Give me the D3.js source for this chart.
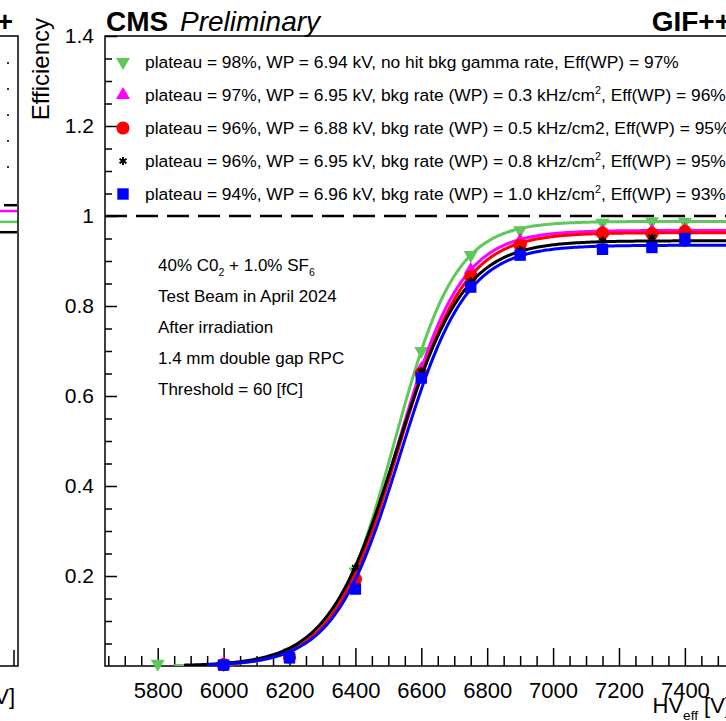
<!DOCTYPE html>
<html>
<head>
<meta charset="utf-8">
<script src="https://cdn.jsdelivr.net/npm/d3@7"></script>
<style>
  body { margin: 0; background: #fff; }
  svg { display: block; font-family: "Liberation Sans", Arial, Helvetica, sans-serif; }
</style>
</head>
<body>
<div id="chart"></div>
<script>
// ---- data ----
const hvNoBkg = [5800, 6000, 6200, 6400, 6600, 6750, 6900, 7150, 7300, 7400];
const effNoBkg = [0.005, 0.004, 0.03, 0.21, 0.70, 0.913, 0.968, 0.985, 0.988, 0.987];
const hvBkg = [6000, 6200, 6400, 6600, 6750, 6900, 7150, 7300, 7400];
const effBkg03 = [0.004, 0.025, 0.20, 0.66, 0.88, 0.945, 0.965, 0.966, 0.968];
const effBkg05 = [0.003, 0.02, 0.193, 0.65, 0.865, 0.935, 0.962, 0.961, 0.966];
const effBkg08 = [0.003, 0.025, 0.219, 0.655, 0.855, 0.925, 0.945, 0.953, 0.94];
const effBkg10 = [0.002, 0.018, 0.171, 0.64, 0.842, 0.913, 0.926, 0.930, 0.950];

// sigmoid fits: eff = plateau / (1 + exp(-slope * (HV - HV50)))
const fitPlateau = [0.988, 0.968, 0.963, 0.945, 0.935];
const fitSlope = [0.01074, 0.0103, 0.0100, 0.0097, 0.0100];
const fitHV50 = [6517, 6526, 6530, 6522, 6535];
const fitStart = [5850, 5950, 5950, 5880, 5950];

const seriesColors = ["#5ec85a", "#ff00ff", "#ff0000", "#000000", "#0000ff"];
const seriesMarkers = ["triDown", "triUp", "circle", "star", "square"];

const legendLabels = [
  "plateau = 98%, WP = 6.94 kV, no hit bkg gamma rate, Eff(WP) = 97%",
  "plateau = 97%, WP = 6.95 kV, bkg rate (WP) = 0.3 kHz/cm^{2}, Eff(WP) = 96%",
  "plateau = 96%, WP = 6.88 kV, bkg rate (WP) = 0.5 kHz/cm2, Eff(WP) = 95%",
  "plateau = 96%, WP = 6.95 kV, bkg rate (WP) = 0.8 kHz/cm^{2}, Eff(WP) = 95%",
  "plateau = 94%, WP = 6.96 kV, bkg rate (WP) = 1.0 kHz/cm^{2}, Eff(WP) = 93%"
];
const infoLines = [
  "40% C0_{2} + 1.0% SF_{6}",
  "Test Beam in April 2024",
  "After irradiation",
  "1.4 mm double gap RPC",
  "Threshold = 60 [fC]"
];

const xMajorTicks = [5800, 6000, 6200, 6400, 6600, 6800, 7000, 7200, 7400];
const yMajorTicks = [0.2, 0.4, 0.6, 0.8, 1.0, 1.2, 1.4];

// plateau lines of the neighbouring panel that peek in on the left
const leftPanelLevels = [1.024, 1.011, 0.987, 0.964];
const leftPanelColors = ["#000000", "#ff00ff", "#5ec85a", "#000000"];

const series = [
  { hv: hvNoBkg, eff: effNoBkg },
  { hv: hvBkg, eff: effBkg03 },
  { hv: hvBkg, eff: effBkg05 },
  { hv: hvBkg, eff: effBkg08 },
  { hv: hvBkg, eff: effBkg10 }
];

// ---- layout ----
const W = 726, H = 721;
const frame = { left: 105, top: 36, right: 731, bottom: 666 };

const svg = d3.select("#chart").append("svg")
    .attr("width", W)
    .attr("height", H);

const x = d3.scaleLinear().domain([5640, 7540]).range([frame.left, frame.right]);
const y = d3.scaleLinear().domain([0, 1.4]).range([frame.bottom, frame.top]);

// text with ROOT-like ^{} and _{} markup
function richText(sel, str, size) {
  const parts = str.split(/(\^\{[^}]*\}|_\{[^}]*\})/);
  let prev = 0;
  parts.forEach(p => {
    if (!p) return;
    let off = 0, fs = size, s = p;
    if (p.startsWith("^{")) { s = p.slice(2, -1); off = -0.42 * size; fs = 0.62 * size; }
    else if (p.startsWith("_{")) { s = p.slice(2, -1); off = 0.32 * size; fs = 0.62 * size; }
    sel.append("tspan").attr("dy", off - prev).attr("font-size", fs).text(s);
    prev = off;
  });
}

function drawMarker(g, type, color) {
  if (type === "triDown") {
    g.append("path").attr("d", d3.symbol(d3.symbolTriangle, 85)())
      .attr("transform", "rotate(180)").attr("fill", color);
  } else if (type === "triUp") {
    g.append("path").attr("d", d3.symbol(d3.symbolTriangle, 85)()).attr("fill", color);
  } else if (type === "circle") {
    g.append("path").attr("d", d3.symbol(d3.symbolCircle, 135)()).attr("fill", color);
  } else if (type === "star") {
    g.append("path").attr("d", d3.symbol(d3.symbolAsterisk, 45)())
      .attr("fill", "none").attr("stroke", color).attr("stroke-width", 2);
  } else {
    g.append("path").attr("d", d3.symbol(d3.symbolSquare, 130)()).attr("fill", color);
  }
}

// ---- left neighbour panel fragment ----
const left = svg.append("g");
left.append("path")
    .attr("d", `M0,${frame.top}H18V${frame.bottom}H0`)
    .attr("fill", "none").attr("stroke", "#000").attr("stroke-width", 1.5);
left.append("line")
    .attr("x1", 14).attr("x2", 14).attr("y1", frame.bottom).attr("y2", frame.bottom - 16)
    .attr("stroke", "#000").attr("stroke-width", 1.5);
left.selectAll(".lvl")
    .data(leftPanelLevels)
    .enter().append("line")
    .attr("x1", (d, i) => i === 0 ? 4 : 0).attr("x2", 17)
    .attr("y1", d => y(d)).attr("y2", d => y(d))
    .attr("stroke", (d, i) => leftPanelColors[i]).attr("stroke-width", 2.5);
left.selectAll(".dot")
    .data(legendLabels)
    .enter().append("rect")
    .attr("x", 7).attr("y", (d, i) => 62 + i * 26).attr("width", 2).attr("height", 2)
    .attr("fill", "#333");
left.append("text")
    .attr("x", 13).attr("y", 31).attr("text-anchor", "end")
    .attr("font-size", 28).attr("font-weight", "bold")
    .text("GIF++");
const leftTitle = left.append("text")
    .attr("x", 15).attr("y", 704).attr("text-anchor", "end").attr("font-size", 22);
richText(leftTitle, "HV_{eff} [V]", 22);

// ---- axes ----
const xMinorTicks = d3.range(5650, 7540, 50).filter(v => !xMajorTicks.includes(v));
const yMinorTicks = d3.range(0.05, 1.4, 0.05).map(v => +v.toFixed(2))
    .filter(v => !yMajorTicks.some(m => Math.abs(m - v) < 1e-6));

svg.append("g")
    .attr("class", "x axis")
    .attr("transform", `translate(0,${frame.bottom})`)
    .call(d3.axisBottom(x).tickValues(xMajorTicks).tickSize(-18).tickPadding(16)
      .tickFormat(d3.format("d")));
svg.append("g")
    .attr("transform", `translate(0,${frame.bottom})`)
    .call(d3.axisBottom(x).tickValues(xMinorTicks).tickSize(-10).tickFormat(""));

svg.append("g")
    .attr("class", "y axis")
    .attr("transform", `translate(${frame.left},0)`)
    .call(d3.axisLeft(y).tickValues(yMajorTicks).tickSize(-12).tickPadding(11)
      .tickFormat(d => d === 1 ? "1" : d.toFixed(1)));
svg.append("g")
    .attr("transform", `translate(${frame.left},0)`)
    .call(d3.axisLeft(y).tickValues(yMinorTicks).tickSize(-7).tickFormat(""));

svg.selectAll(".domain").remove();
svg.selectAll(".tick line").attr("stroke", "#000").attr("stroke-width", 1.5);
svg.selectAll(".tick text")
    .attr("font-family", "Liberation Sans, Arial, sans-serif")
    .attr("font-size", 21).attr("fill", "#000");
svg.selectAll(".x.axis .tick text").attr("font-size", 22);

// frame
svg.append("rect")
    .attr("x", frame.left).attr("y", frame.top)
    .attr("width", frame.right - frame.left).attr("height", frame.bottom - frame.top)
    .attr("fill", "none").attr("stroke", "#000").attr("stroke-width", 1.5);

// titles
svg.append("text")
    .attr("transform", `translate(49,18) rotate(-90)`)
    .attr("text-anchor", "end").attr("font-size", 24)
    .text("Efficiency");
const xTitle = svg.append("text")
    .attr("x", frame.right).attr("y", 713).attr("text-anchor", "end").attr("font-size", 22);
richText(xTitle, "HV_{eff} [V]", 22);

svg.append("text")
    .attr("x", 106).attr("y", 31)
    .attr("font-size", 28).attr("font-weight", "bold")
    .text("CMS");
svg.append("text")
    .attr("x", 180).attr("y", 31)
    .attr("font-size", 28).attr("font-style", "italic")
    .text("Preliminary");
svg.append("text")
    .attr("x", frame.right).attr("y", 31).attr("text-anchor", "end")
    .attr("font-size", 28).attr("font-weight", "bold")
    .text("GIF++");

// reference line at efficiency = 1
svg.append("line")
    .attr("x1", frame.left).attr("x2", frame.right)
    .attr("y1", y(1)).attr("y2", y(1))
    .attr("stroke", "#000").attr("stroke-width", 2.5)
    .attr("stroke-dasharray", "22,9");

// ---- fits and points ----
svg.append("clipPath").attr("id", "plotClip")
  .append("rect")
    .attr("x", frame.left).attr("y", frame.top)
    .attr("width", frame.right - frame.left).attr("height", frame.bottom - frame.top);

const line = d3.line().x(d => x(d[0])).y(d => y(d[1]));

series.forEach((s, i) => {
  const fitPts = d3.range(fitStart[i], 7541, 5).map(hv =>
    [hv, fitPlateau[i] / (1 + Math.exp(-fitSlope[i] * (hv - fitHV50[i])))]);
  svg.append("path")
      .datum(fitPts)
      .attr("clip-path", "url(#plotClip)")
      .attr("fill", "none")
      .attr("stroke", seriesColors[i])
      .attr("stroke-width", 3)
      .attr("d", line);

  const pts = svg.append("g");
  s.hv.forEach((hv, j) => {
    const g = pts.append("g").attr("transform", `translate(${x(hv)},${y(s.eff[j])})`);
    drawMarker(g, seriesMarkers[i], seriesColors[i]);
  });
});

// ---- legend ----
const legend = svg.append("g");
legendLabels.forEach((label, i) => {
  const cy = 62 + i * 33;
  const g = legend.append("g").attr("transform", `translate(123,${cy})`);
  drawMarker(g, seriesMarkers[i], seriesColors[i]);
  const t = legend.append("text")
      .attr("x", 145).attr("y", cy + 6)
      .attr("font-size", 17.4);
  richText(t, label, 17.4);
});

// ---- info text ----
infoLines.forEach((txt, i) => {
  const t = svg.append("text")
      .attr("x", 158).attr("y", 271 + i * 31)
      .attr("font-size", 17);
  richText(t, txt, 17);
});
</script>
</body>
</html>
